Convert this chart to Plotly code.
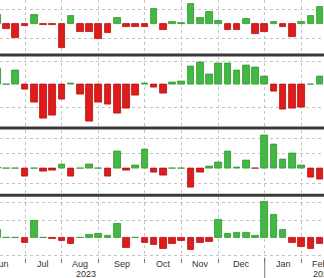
import plotly.graph_objects as go

# ---------------- data ----------------
weeks = list(range(-3, 33))  # weekly bar index; 0 = first week of Jul 2023

panel1 = [0.65, -0.37, -0.94, -0.14, 0.62, -0.07, -0.07, -1.68, 0.57, -0.57, -0.57, -1.03,
          -0.64, 0.39, -0.18, -0.18, -0.23, 1.01, -0.41, 0.16, 0.09, 1.38, 0.39, 0.85,
          0.20, -0.41, -0.41, 0.32, -0.71, -0.57, 0.16, -0.23, -0.92, 0.16, 0.55, 1.20]
panel2 = [0.70, 0.02, 0.60, -0.22, -0.80, -1.46, -1.33, -0.66, 0.06, -0.45, -1.60, -0.78,
          -0.88, -1.24, -1.06, -0.48, 0.03, -0.14, -0.40, 0.10, 0.13, 0.78, 0.97, 0.42,
          0.93, 0.90, 0.60, 0.83, 0.75, 0.36, -0.29, -1.08, -1.06, -1.01, 0.02, 0.35]
panel3 = [0.03, 0.02, 0.02, -0.51, 0.01, -0.22, -0.16, 0.29, -0.56, 0.01, 0.29, 0.01,
          -0.56, 1.10, -0.16, 0.18, 1.29, -0.27, -0.44, 0.01, 0.01, -1.27, -0.29, 0.16,
          0.38, 1.10, 0.04, 0.56, -0.03, 2.22, 1.62, 0.62, 1.00, 0.22, -0.62, -0.73]
panel4 = [0.44, 0.01, 0.01, -0.29, 0.97, 0.01, -0.08, -0.17, -0.36, 0.02, 0.19, 0.25,
          0.12, 0.82, -0.57, 0.01, -0.27, -0.38, -0.65, -0.33, -0.17, -0.70, -0.29, -0.23,
          1.05, 0.25, 0.29, 0.29, 0.12, 2.06, 1.33, 0.48, -0.29, -0.51, -0.65, -0.36]

month_names = ["Jun", "Jul", "Aug", "Sep", "Oct", "Nov", "Dec", "Jan", "Feb"]
month_starts = [-5, 0, 4, 8, 13, 17, 21, 26, 30, 34]
year_labels = ["2023", "2024"]
year_start_week = 26

# ---------------- layout helpers ----------------
W, H = 324, 278
PLOT_H = 258.0
X_LO, X_HI = -25 / 9.22, 299 / 9.22

def frac(py):
    return 1 - py / PLOT_H

# (top px, bottom px, zero px, unit px, grid values)
panels = [
    (0.0, 53.5, 24.0, 14.5, [-1, 1]),
    (56.5, 126.5, 84.5, 23.0, [-1, 1]),
    (129.5, 193.8, 168.4, 15.0, [-1, 1, 2]),
    (196.8, 258.0, 237.7, 17.5, [-1, 1, 2]),
]
series = [panel1, panel2, panel3, panel4]

GREEN, GREEN_L = "#43b843", "#2f962f"
RED, RED_L = "#e01b1b", "#b01010"
GRID = "#c4c4c4"

fig = go.Figure()
layout = dict(
    width=W, height=H, margin=dict(l=0, r=0, t=0, b=H - PLOT_H),
    paper_bgcolor="white", plot_bgcolor="white", showlegend=False,
    bargap=0,
)

for k, (vals, (top, bot, z, u, gv)) in enumerate(zip(series, panels)):
    yname = "y" if k == 0 else f"y{k+1}"
    fig.add_trace(go.Bar(
        x=weeks, y=vals, width=0.72, yaxis=yname, xaxis="x",
        marker=dict(color=[GREEN if v >= 0 else RED for v in vals],
                    line=dict(color=[GREEN_L if v >= 0 else RED_L for v in vals], width=0.8)),
        hoverinfo="skip",
    ))
    key = "yaxis" if k == 0 else f"yaxis{k+1}"
    layout[key] = dict(
        domain=[frac(bot), frac(top)],
        range=[-(bot - z) / u, (z - top) / u],
        tickvals=gv, showticklabels=False, ticks="",
        showgrid=True, gridcolor=GRID, griddash="dot", gridwidth=1,
        zeroline=False, showline=False, fixedrange=True,
        anchor="x",
    )

layout["xaxis"] = dict(
    range=[X_LO, X_HI], anchor="y4",
    tickvals=[m for m in month_starts if X_LO < m < X_HI],
    showticklabels=False, ticks="outside", ticklen=4, tickcolor="#777", tickwidth=1,
    showgrid=True, gridcolor=GRID, griddash="dot", gridwidth=1,
    zeroline=False, showline=False, fixedrange=True,
)

shapes = []
for py in [55.0, 128.0, 195.3]:
    shapes.append(dict(type="line", xref="paper", yref="paper", x0=0, x1=1,
                       y0=frac(py), y1=frac(py), line=dict(color="#3a3a3a", width=3)))
shapes.append(dict(type="line", xref="x", yref="paper", x0=year_start_week, x1=year_start_week,
                   y0=0, y1=frac(278), line=dict(color="#777", width=1)))
layout["shapes"] = shapes

ann = []
FONT = dict(family="Liberation Sans, Arial", size=9, color="#333")
for name, a, b in zip(month_names, month_starts[:-1], month_starts[1:]):
    mid = (a + b) / 2
    if X_LO - 2 < mid < X_HI:
        ann.append(dict(x=mid, xref="x", y=frac(263.5), yref="paper", text=name,
                        showarrow=False, font=FONT, xanchor="center", yanchor="middle"))
ann.append(dict(x=6.6, xref="x", y=frac(274), yref="paper", text=year_labels[0],
                showarrow=False, font=FONT, xanchor="center", yanchor="middle"))
ann.append(dict(x=311 / W, xref="paper", y=frac(274), yref="paper", text=year_labels[1],
                showarrow=False, font=FONT, xanchor="left", yanchor="middle"))
layout["annotations"] = ann

fig.update_layout(**layout)
fig.write_html("out.html", config={"displayModeBar": False})
